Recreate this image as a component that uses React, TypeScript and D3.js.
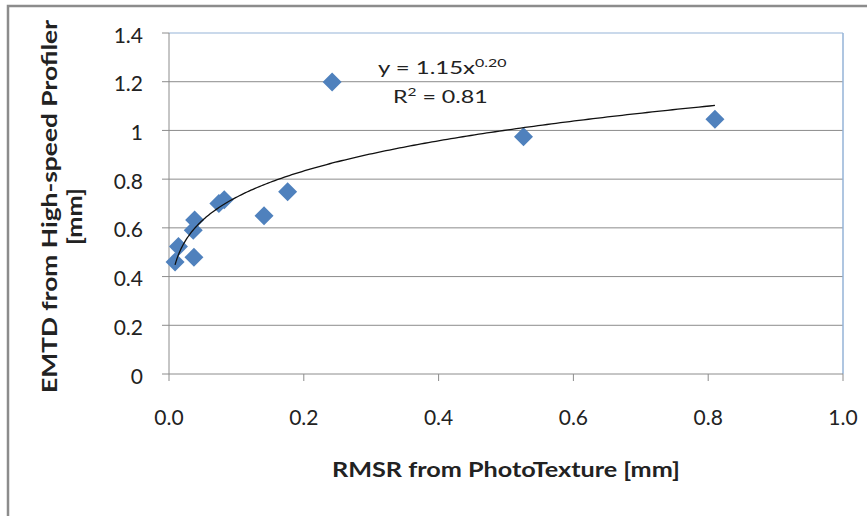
import React from "react";
import * as d3 from "d3";

const xValues = [0.009, 0.014, 0.037, 0.036, 0.038, 0.074, 0.082, 0.141, 0.176, 0.242, 0.526, 0.81];
const yValues = [0.46, 0.523, 0.479, 0.59, 0.632, 0.70, 0.715, 0.65, 0.748, 1.199, 0.974, 1.046];
const xTicks = [0, 0.2, 0.4, 0.6, 0.8, 1.0];
const yTicks = [0, 0.2, 0.4, 0.6, 0.8, 1, 1.2, 1.4];
const trendA = 1.15;
const trendB = 0.2;
const trendRange = [0.009, 0.81];

const W = 867, H = 516;
const font = "Lato, 'Open Sans', sans-serif";

export default function App() {
  const x = d3.scaleLinear().domain([0, 1]).range([169, 843]);
  const y = d3.scaleLinear().domain([0, 1.4]).range([374, 33]);
  const trendPts = d3.range(0, 201).map(i => {
    const xv = trendRange[0] + (trendRange[1] - trendRange[0]) * Math.pow(i / 200, 2);
    return [xv, trendA * Math.pow(xv, trendB)] as [number, number];
  });
  const line = d3.line<[number, number]>().x(d => x(d[0])).y(d => y(d[1]));
  const data = xValues.map((v, i) => [v, yValues[i]]);
  const r = 9.5;
  return (
    <svg width={W} height={H} style={{ position: "absolute", left: 0, top: 0, background: "#fff" }}>
      <rect x={8} y={6} width={900} height={600} fill="#fff" stroke="#8c8c8c" strokeWidth={2.5} />
      {yTicks.slice(1).map(t => (
        <line key={"g" + t} x1={x(0)} x2={x(1)} y1={y(t)} y2={y(t)} stroke={t === 1.4 ? "#95b3d7" : "#8c8c8c"} strokeWidth={1} />
      ))}
      <line x1={x(1)} x2={x(1)} y1={y(1.4)} y2={y(0)} stroke="#95b3d7" strokeWidth={1.5} />
      <line x1={x(0)} x2={x(1)} y1={y(0)} y2={y(0)} stroke="#8c8c8c" strokeWidth={1} />
      <line x1={x(0)} x2={x(0)} y1={y(1.4)} y2={y(0)} stroke="#8c8c8c" strokeWidth={1} />
      {yTicks.map(t => (
        <g key={"y" + t}>
          <line x1={x(0) - 7} x2={x(0)} y1={y(t)} y2={y(t)} stroke="#8c8c8c" />
          <text x={143} y={y(t) + 9.5} textAnchor="end" fontFamily={font} fontSize={21} fill="#222">{d3.format("")(t)}</text>
        </g>
      ))}
      {xTicks.map(t => (
        <g key={"x" + t}>
          <line x1={x(t)} x2={x(t)} y1={y(0)} y2={y(0) + 7} stroke="#8c8c8c" />
          <text x={x(t)} y={425} textAnchor="middle" fontFamily={font} fontSize={21} fill="#222">{d3.format(".1f")(t)}</text>
        </g>
      ))}
      {data.map((d, i) => (
        <path key={i} d={`M${x(d[0])},${y(d[1]) - r}L${x(d[0]) + r},${y(d[1])}L${x(d[0])},${y(d[1]) + r}L${x(d[0]) - r},${y(d[1])}Z`} fill="#4f81bd" />
      ))}
      <path d={line(trendPts) || ""} fill="none" stroke="#111" strokeWidth={1.3} />
      <g transform="translate(378,74) scale(1.33,1)">
        <text x={0} y={0} fontFamily={font} fontSize={18} fill="#222">
          y = 1.15x<tspan fontSize={12} dy={-7}>0.20</tspan>
        </text>
      </g>
      <g transform="translate(393,103) scale(1.29,1)">
        <text x={0} y={0} fontFamily={font} fontSize={18} fill="#222">
          R<tspan fontSize={12} dy={-7}>2</tspan><tspan dy={7}> = 0.81</tspan>
        </text>
      </g>
      <text x={506} y={477} textAnchor="middle" fontFamily={font} fontSize={21} fontWeight="bold" fill="#222" textLength={348} lengthAdjust="spacingAndGlyphs">RMSR from PhotoTexture [mm]</text>
      <text transform={`translate(57,206.5) rotate(-90)`} textAnchor="middle" fontFamily={font} fontSize={21} fontWeight="bold" fill="#222" textLength={373} lengthAdjust="spacingAndGlyphs">EMTD from High-speed Profiler</text>
      <text transform={`translate(82,216.5) rotate(-90)`} textAnchor="middle" fontFamily={font} fontSize={21} fontWeight="bold" fill="#222" textLength={57} lengthAdjust="spacingAndGlyphs">[mm]</text>
    </svg>
  );
}
